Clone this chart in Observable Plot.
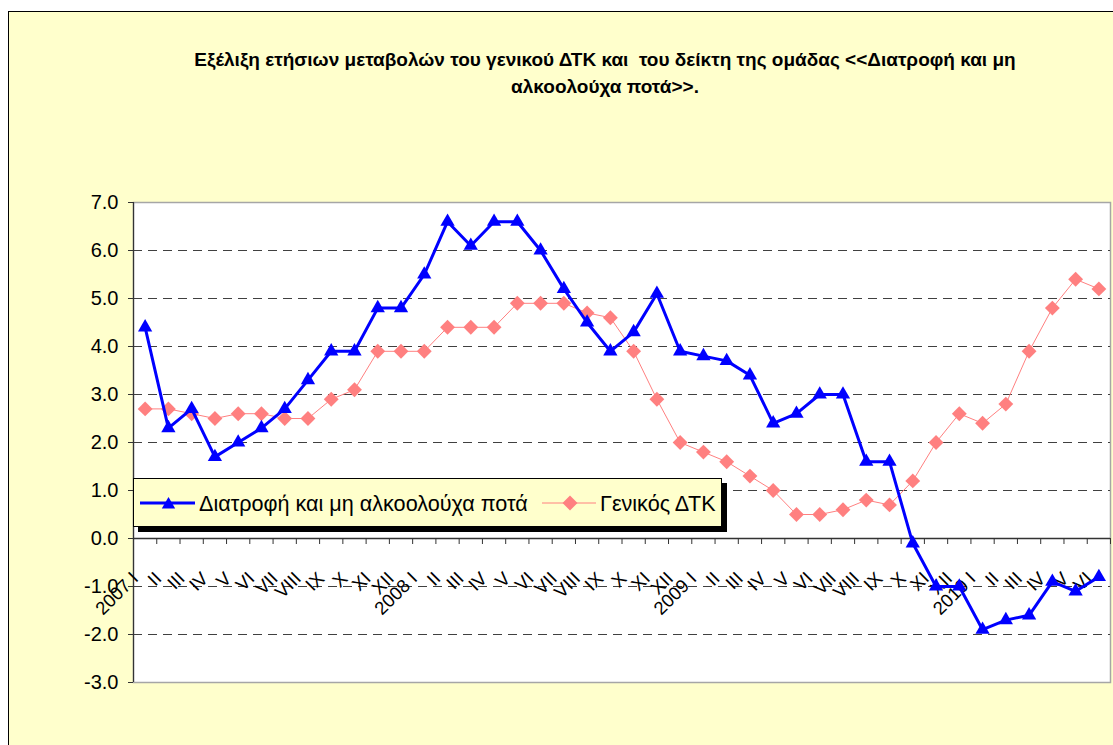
<!DOCTYPE html>
<html>
<head>
<meta charset="utf-8">
<script src="https://cdn.jsdelivr.net/npm/d3@7"></script>
<script src="https://cdn.jsdelivr.net/npm/@observablehq/plot@0.6"></script>
<style>
  html, body { margin: 0; padding: 0; background: #fff; }
  body { font-family: "Liberation Sans", Arial, sans-serif; }
  #wrap { position: relative; width: 1113px; height: 745px; overflow: hidden; }
  #bg { position: absolute; left: 8px; top: 11px; width: 1200px; height: 800px; background: #FFFFCC; border: 1px solid #000; }
  #title { position: absolute; left: 0; top: 46px; width: 1210px; text-align: center; font-weight: bold; font-size: 19px; line-height: 27px; color: #000; }
  #chart { position: absolute; left: 0; top: 0; }
  #legend { position: absolute; left: 133px; top: 478px; width: 589px; height: 49px; box-sizing: border-box; background: #FFFFCC; border: 1px solid #000; box-shadow: 5px 5px 0 #000; }
  #legend svg { position: absolute; left: 0; top: 0; overflow: visible; }
</style>
</head>
<body>
<div id="wrap">
  <div id="bg"></div>
  <div id="title">Εξέλιξη ετήσιων μεταβολών του γενικού ΔΤΚ και&nbsp; του δείκτη της ομάδας &lt;&lt;Διατροφή και μη<br>αλκοολούχα ποτά&gt;&gt;.</div>
  <div id="chart"></div>
  <div id="legend">
    <svg width="589" height="49">
      <line x1="6" x2="61" y1="24" y2="24" stroke="#0000FF" stroke-width="3"></line>
      <path d="M34.5,18 L41.2,29.5 L27.8,29.5 Z" fill="#0000FF"></path>
      <text x="65" y="31.5" font-size="21.6" font-family="Liberation Sans, Arial, sans-serif" fill="#000">Διατροφή και μη αλκοολούχα ποτά</text>
      <line x1="408" x2="462" y1="24" y2="24" stroke="#FF8080" stroke-width="1"></line>
      <path d="M436,16.5 L443.5,24 L436,31.5 L428.5,24 Z" fill="#FF8080"></path>
      <text x="466" y="31.5" font-size="21.6" font-family="Liberation Sans, Arial, sans-serif" fill="#000">Γενικός ΔΤΚ</text>
    </svg>
  </div>
</div>
<script>
// ---- Data ----
const months = ["I","II","III","IV","V","VI","VII","VIII","IX","X","XI","XII"];
const years = [2007, 2008, 2009, 2010];
const monthsPerYear = [12, 12, 12, 6];
const tickLabels = [];
years.forEach((yr, k) => {
  for (let m = 0; m < monthsPerYear[k]; m++) tickLabels.push(m === 0 ? yr + " " + months[m] : months[m]);
});
// Διατροφή και μη αλκοολούχα ποτά (annual % change)
const food = [4.4, 2.3, 2.7, 1.7, 2.0, 2.3, 2.7, 3.3, 3.9, 3.9, 4.8, 4.8,
              5.5, 6.6, 6.1, 6.6, 6.6, 6.0, 5.2, 4.5, 3.9, 4.3, 5.1, 3.9,
              3.8, 3.7, 3.4, 2.4, 2.6, 3.0, 3.0, 1.6, 1.6, -0.1, -1.0, -1.0,
              -1.9, -1.7, -1.6, -0.9, -1.1, -0.8];
// Γενικός ΔΤΚ (annual % change)
const cpi = [2.7, 2.7, 2.6, 2.5, 2.6, 2.6, 2.5, 2.5, 2.9, 3.1, 3.9, 3.9,
             3.9, 4.4, 4.4, 4.4, 4.9, 4.9, 4.9, 4.7, 4.6, 3.9, 2.9, 2.0,
             1.8, 1.6, 1.3, 1.0, 0.5, 0.5, 0.6, 0.8, 0.7, 1.2, 2.0, 2.6,
             2.4, 2.8, 3.9, 4.8, 5.4, 5.2];
const yTicks = [-3, -2, -1, 0, 1, 2, 3, 4, 5, 6, 7];

// ---- Chart ----
const idx = d3.range(tickLabels.length);
const bounds = d3.range(tickLabels.length + 1).map(k => k - 0.5);
const font = "Liberation Sans, Arial, sans-serif";

const chart = Plot.plot({
  width: 1113,
  height: 745,
  marginLeft: 133,
  marginRight: 3,
  marginTop: 202,
  marginBottom: 63,
  style: { background: "transparent", fontFamily: font, color: "#000", overflow: "visible" },
  x: { domain: [-0.5, tickLabels.length - 0.5], axis: null },
  y: { domain: [-3, 7], axis: null },
  marks: [
    Plot.frame({ fill: "#fff", stroke: "#a6a6a6", strokeWidth: 1.5 }),
    Plot.ruleY(yTicks.filter(v => v !== 0 && v !== -3 && v !== 7), { stroke: "#404040", strokeWidth: 1.2, strokeDasharray: "9,6" }),
    Plot.ruleY([0], { stroke: "#333", strokeWidth: 1.5 }),
    Plot.ruleX(bounds, { x: d => d, y1: 0, y2: -0.125, stroke: "#333", strokeWidth: 1 }),
    Plot.ruleX([-0.5], { stroke: "#333", strokeWidth: 1.2 }),
    Plot.axisY({ ticks: yTicks, tickFormat: d => d.toFixed(1), tickSize: 5, tickPadding: 10, fontSize: 20, stroke: "#333", fill: "#000" }),
    Plot.text(idx, { x: i => i, y: 0, text: i => tickLabels[i], rotate: -45, textAnchor: "end", dx: -10, dy: 37, fontSize: 18.5, fill: "#000" }),
    Plot.line(idx, { x: i => i, y: i => cpi[i], stroke: "#FF8080", strokeWidth: 1 }),
    Plot.dot(idx, { x: i => i, y: i => cpi[i], symbol: "diamond2", r: 6.7, fill: "#FF8080", stroke: "none" }),
    Plot.line(idx, { x: i => i, y: i => food[i], stroke: "#0000FF", strokeWidth: 3 }),
    Plot.dot(idx, { x: i => i, y: i => food[i], symbol: "triangle", r: 5.3, fill: "#0000FF", stroke: "none" })
  ]
});
document.getElementById("chart").appendChild(chart);
</script>
</body>
</html>
